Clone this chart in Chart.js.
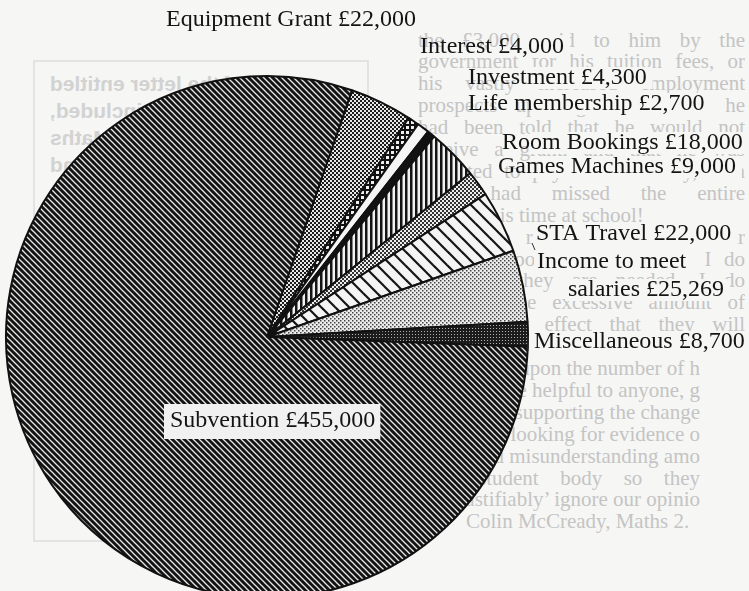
<!DOCTYPE html>
<html>
<head>
<meta charset="utf-8">
<script src="https://cdn.jsdelivr.net/npm/chart.js@4.4.0/dist/chart.umd.min.js"></script>
<style>
html, body { margin: 0; padding: 0; background: #f6f6f4; }
#page { position: relative; width: 749px; height: 591px; overflow: hidden; }
#column { position: absolute; left: 418px; top: 0; width: 327px; font: 21px "Liberation Serif", serif; color: #c4c4c4; }
#column div { position: absolute; left: 0; width: 327px; height: 23px; line-height: 23px; overflow: hidden; text-align: justify; text-align-last: justify; }
#column div.end { text-align-last: left; }
#column div.cut { text-align: right; text-align-last: right; white-space: nowrap; }
#box { position: absolute; left: 33px; top: 60px; width: 332px; height: 478px; border: 2px solid #e3e3e3; }
#boxtext { position: absolute; left: 50px; top: 70px; width: 310px; font: bold 21px "Liberation Sans", sans-serif; color: #d2d2d2; text-align: right; transform: scaleX(-1); }
#boxtext div { height: 27px; line-height: 27px; white-space: nowrap; }
#chart { position: absolute; left: 0; top: 0; }
</style>
</head>
<body>
<div id="page">
  <div id="box"></div>
  <div id="boxtext">
    <div>of the letter entitled</div>
    <div>were not included,</div>
    <div>students of Maths</div>
    <div>and</div>
  </div>
  <div id="column"></div>
  <canvas id="chart" width="749" height="610"></canvas>
</div>
<script>
// --- Data ---
const categories = ['Equipment Grant', 'Interest', 'Investment', 'Life membership', 'Room Bookings',
    'Games Machines', 'STA Travel', 'Income to meet\nsalaries', 'Miscellaneous', 'Subvention']
const values = [22000, 4000, 4300, 2700, 18000, 9000, 22000, 25269, 8700, 455000]

// label anchor per line (left x, middle y)
const labelAt = [
    [[166, 20]], [[420, 47]], [[468, 78]], [[468, 104]], [[502, 143]],
    [[498, 167]], [[536, 234]], [[537, 262], [568, 290]], [[534, 342]], [[170, 421]]
]

// faded newspaper column behind the chart
const columnLines = [
    'the £3,000 paid to him by the', 'government for his tuition fees, or', 'his vastly increased employment',
    'prospects upon graduation? If he', 'had been told that he would not', 'receive a grant, and that he was',
    'expected to pay his own way, then', 'he had missed the entire', 'point of his time at school!',
    'For the record I am in favour', 'of the proposed changes, and I do', 'feel that they are needed. I do',
    'not find the excessive amount of', 'talk to the effect that they will', 'have a detrimental effect',
    'effect upon the number of h', 'all be helpful to anyone, g', 'of those supporting the change',
    'are only looking for evidence o', 'widespread misunderstanding amo', 'student body so they',
    'can then ‘justifiably’ ignore our opinio', 'Colin McCready, Maths 2.'
]
const column = document.getElementById('column')
columnLines.forEach((t, i) => {
    const d = document.createElement('div')
    d.textContent = t
    d.style.top = (40 + 21.9 * i - 11.5) + 'px'
    if (i === 7 || i === 9) { d.style.left = '22px'; d.style.width = '305px' }
    if (i === 8) d.className = 'end'
    if (i >= 15 && i <= 21) { d.className = 'cut'; d.style.left = '-120px'; d.style.width = '402px' }
    if (i === 20) { d.className = ''; d.style.left = '60px'; d.style.width = '222px' }
    if (i === 22) { d.className = 'end'; d.style.left = '48px' }
    column.appendChild(d)
})

// --- Fill patterns ---
const canvas = document.getElementById('chart')
const ctx = canvas.getContext('2d')

function pattern(size, draw) {
    const t = document.createElement('canvas')
    t.width = size
    t.height = size
    draw(t.getContext('2d'), size)
    return ctx.createPattern(t, 'repeat')
}

function diagonal(size, bg, fg, w) {
    return pattern(size, (g, s) => {
        g.fillStyle = bg
        g.fillRect(0, 0, s, s)
        g.strokeStyle = fg
        g.lineWidth = w
        for (const k of [-s, 0, s]) {
            g.beginPath()
            g.moveTo(k - 2, -2)
            g.lineTo(k + s + 2, s + 2)
            g.stroke()
        }
    })
}

function checker(size, cell, bg, fg) {
    return pattern(size, (g, s) => {
        g.fillStyle = bg
        g.fillRect(0, 0, s, s)
        g.fillStyle = fg
        g.fillRect(0, 0, cell, cell)
        g.fillRect(s / 2, s / 2, cell, cell)
    })
}

const fills = [
    checker(4, 2, '#e8e8e8', '#1c1c1c'),                  // Equipment Grant
    pattern(5, (g, s) => { g.fillStyle = '#111'; g.fillRect(0, 0, s, s); g.fillStyle = '#eee'; g.fillRect(1, 1, 3, 3) }),
    '#f5f5f5',                                            // Investment
    '#121212',                                            // Life membership
    pattern(5, (g, s) => { g.fillStyle = '#f2f2f2'; g.fillRect(0, 0, s, s); g.fillStyle = '#141414'; g.fillRect(0, 0, 2.5, s) }),
    checker(4, 2, '#eeeeee', '#333333'),                  // Games Machines
    diagonal(14, '#f4f4f4', '#151515', 2.2),              // STA Travel
    checker(4, 1.5, '#ececec', '#444444'),                // Income
    pattern(3, (g, s) => { g.fillStyle = '#1c1c1c'; g.fillRect(0, 0, s, s); g.fillStyle = '#b0b0b0'; g.fillRect(1, 1, 1, 1) }),
    diagonal(6, '#131313', '#e8e8e8', 1.3)                // Subvention
]

// --- Labels ---
const labelPlugin = {
    id: 'labels',
    afterDraw(chart) {
        const c = chart.ctx
        c.save()
        c.font = '24px "Liberation Serif"'
        c.textBaseline = 'middle'
        categories.forEach((cat, i) => {
            const lines = (cat + ' £' + values[i].toLocaleString('en-GB')).split('\n')
            lines.forEach((t, j) => {
                const [x, y] = labelAt[i][j]
                const w = c.measureText(t).width
                if (cat === 'Subvention') {
                    c.fillStyle = '#f1f1f1'
                    c.fillRect(x - 6, y - 17, w + 11, 35)
                } else if (x + 4 > 418) {
                    // paper knock-out so the faded column does not show through the label
                    const left = Math.max(x - 3, 530)
                    c.fillStyle = '#f6f6f4'
                    c.fillRect(left, y - 11, x + w + 6 - left, 22)
                }
                c.fillStyle = '#141414'
                c.fillText(t, x, y)
            })
        })
        // little leader ticks
        c.strokeStyle = '#333'
        c.lineWidth = 1
        c.beginPath()
        c.moveTo(532, 243); c.lineTo(535, 250)
        c.moveTo(528, 336); c.lineTo(528, 351)
        c.stroke()
        c.restore()
    }
}

new Chart(canvas, {
    type: 'pie',
    data: {
        labels: categories,
        datasets: [{
            data: values,
            backgroundColor: fills,
            borderColor: '#111',
            borderWidth: 2
        }]
    },
    options: {
        responsive: false,
        animation: false,
        events: [],
        rotation: 19,
        layout: { padding: { left: 5, top: 75, right: 220, bottom: 11 } },
        plugins: { legend: { display: false }, tooltip: { enabled: false } }
    },
    plugins: [labelPlugin]
})
</script>
</body>
</html>
